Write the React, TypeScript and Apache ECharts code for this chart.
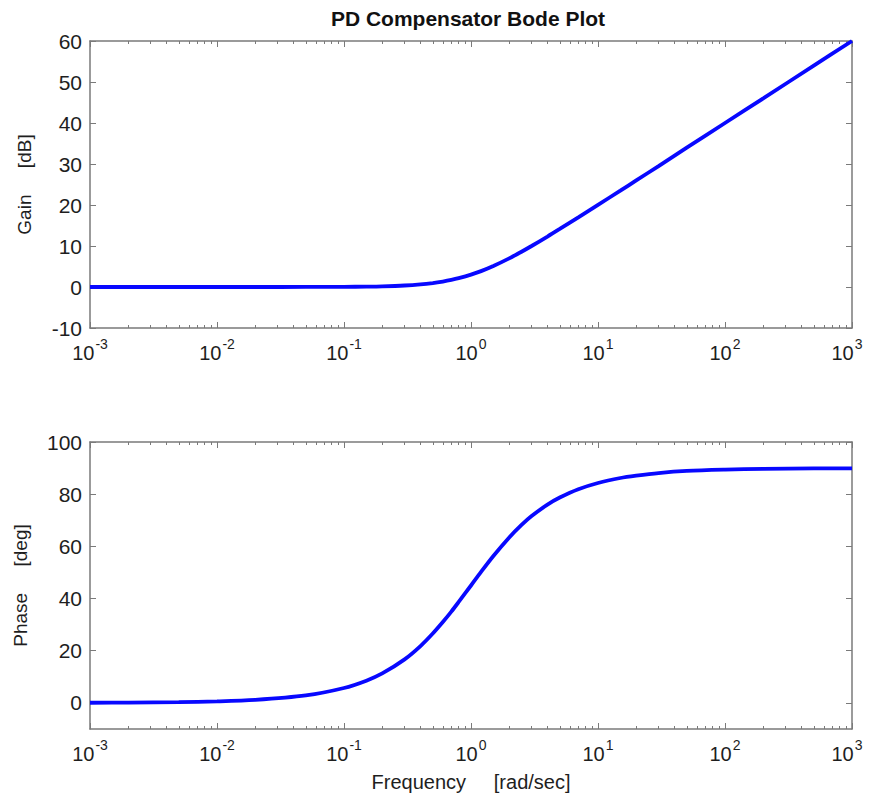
import React, { useEffect, useRef } from "react";
import * as echarts from "echarts";

// Frequencies [rad/sec] at which the curves are read
const freq = [0.001, 0.002, 0.005, 0.01, 0.02, 0.05, 0.1, 0.15, 0.2, 0.3, 0.4, 0.5, 0.6, 0.7, 0.8, 1, 1.2, 1.5, 2, 2.5, 3, 4, 5, 7, 10, 15, 20, 30, 50, 100, 200, 500, 1000];
// Gain [dB]
const gain = [0, 0, 0, 0, 0, 0.01, 0.04, 0.1, 0.17, 0.37, 0.64, 0.97, 1.34, 1.73, 2.15, 3.01, 3.87, 5.12, 6.99, 8.6, 10.0, 12.3, 14.15, 16.99, 20.04, 23.5, 26.0, 29.5, 34.0, 40.0, 46.0, 54.0, 60.0];
// Phase [deg]
const phase = [0.06, 0.11, 0.29, 0.57, 1.15, 2.86, 5.71, 8.53, 11.3, 16.7, 21.8, 26.6, 31.0, 35.0, 38.7, 45.0, 50.2, 56.3, 63.4, 68.2, 71.6, 76.0, 78.7, 81.9, 84.3, 86.2, 87.1, 88.1, 88.9, 89.4, 89.7, 89.9, 89.9];

const majorX = [0.001, 0.01, 0.1, 1, 10, 100, 1000];
const minorX: number[] = [];
for (let e = -3; e < 3; e++) for (let m = 2; m <= 9; m++) minorX.push(+(m * Math.pow(10, e)).toPrecision(3));
const gainTicks = [-10, 0, 10, 20, 30, 40, 50, 60];
const phaseTicks = [0, 20, 40, 60, 80, 100];

const AX = "#7a7a7a";
const FONT = "Liberation Sans, Arial, sans-serif";
const TXT = "#1e1e1e";

function xAxes(grid: number, showName: boolean) {
  const base = { type: "log", logBase: 10, min: 0.001, max: 1000, gridIndex: grid, splitLine: { show: false } };
  return [
    {
      ...base,
      position: "bottom",
      axisLine: { show: true, onZero: false, lineStyle: { color: AX, width: 1.5 } },
      axisTick: { show: true, inside: true, length: 6, lineStyle: { color: AX }, customValues: majorX },
      axisLabel: {
        show: true,
        margin: 9,
        customValues: majorX,
        formatter: (v: number) => {
          const e = Math.round(Math.log10(v));
          return e === 3 ? `{b|10}{t|${e}}` : `{b|10}{s|${e}}`;
        },
        rich: {
          b: { fontSize: 20, fontFamily: FONT, color: TXT, lineHeight: 26, verticalAlign: "bottom" },
          s: { fontSize: 14, fontFamily: FONT, color: TXT, lineHeight: 26, verticalAlign: "top", padding: [0, 0, 0, 1] },
          t: { fontSize: 14, fontFamily: FONT, color: TXT, lineHeight: 26, verticalAlign: "top", padding: [0, 10, 0, 1] },
        },
      },
      name: showName ? "Frequency     [rad/sec]" : "",
      nameLocation: "middle",
      nameGap: 43,
      nameTextStyle: { fontSize: 20, fontFamily: FONT, color: TXT },
    },
    {
      ...base,
      position: "bottom",
      axisLine: { show: false, onZero: false },
      axisTick: { show: true, inside: true, length: 3, lineStyle: { color: AX }, customValues: minorX },
      axisLabel: { show: false },
    },
    {
      ...base,
      position: "top",
      axisLine: { show: true, onZero: false, lineStyle: { color: AX, width: 1.5 } },
      axisTick: { show: true, inside: true, length: 6, lineStyle: { color: AX }, customValues: majorX },
      axisLabel: { show: false },
    },
    {
      ...base,
      position: "top",
      axisLine: { show: false, onZero: false },
      axisTick: { show: true, inside: true, length: 3, lineStyle: { color: AX }, customValues: minorX },
      axisLabel: { show: false },
    },
  ];
}

function yAxes(grid: number, min: number, max: number, ticks: number[], name: string, gap: number) {
  const base = { type: "value", min, max, gridIndex: grid, splitLine: { show: false } };
  return [
    {
      ...base,
      position: "left",
      axisLine: { show: true, onZero: false, lineStyle: { color: AX, width: 1.5 } },
      axisTick: { show: true, inside: true, length: 6, lineStyle: { color: AX }, customValues: ticks },
      axisLabel: { show: true, customValues: ticks, fontSize: 21, fontFamily: FONT, color: TXT, margin: 8 },
      name,
      nameLocation: "middle",
      nameGap: gap,
      nameRotate: 90,
      nameTextStyle: { fontSize: 19, fontFamily: FONT, color: TXT },
    },
    {
      ...base,
      position: "right",
      axisLine: { show: true, onZero: false, lineStyle: { color: AX, width: 1.5 } },
      axisTick: { show: true, inside: true, length: 6, lineStyle: { color: AX }, customValues: ticks },
      axisLabel: { show: false },
    },
  ];
}

export default function App() {
  const ref = useRef<HTMLDivElement>(null);
  useEffect(() => {
    if (!ref.current) return;
    const chart = echarts.init(ref.current, null, { renderer: "svg" });
    const line = { color: "#0808ff", width: 3.8 };
    chart.setOption({
      animation: false,
      backgroundColor: "#fff",
      title: {
        text: "PD Compensator Bode Plot",
        left: 460,
        textAlign: "center",
        top: 0,
        padding: 0,
        textStyle: { fontSize: 21, fontWeight: "bold", fontFamily: FONT, color: "#111", lineHeight: 20 },
      },
      grid: [
        { left: 82, width: 762, top: 33, height: 287, outerBoundsMode: "none", containLabel: false },
        { left: 82, width: 762, top: 434, height: 287, outerBoundsMode: "none", containLabel: false },
      ],
      xAxis: [...xAxes(0, false), ...xAxes(1, true)],
      yAxis: [
        ...yAxes(0, -10, 60, gainTicks, "Gain     [dB]", 56),
        ...yAxes(1, -10, 100, phaseTicks, "Phase     [deg]", 60),
      ],
      series: [
        {
          type: "line",
          xAxisIndex: 0,
          yAxisIndex: 0,
          data: freq.map((f, i) => [f, gain[i]]),
          showSymbol: false,
          smooth: 0.3,
          lineStyle: line,
          clip: true,
        },
        {
          type: "line",
          xAxisIndex: 4,
          yAxisIndex: 2,
          data: freq.map((f, i) => [f, phase[i]]),
          showSymbol: false,
          smooth: 0.3,
          lineStyle: line,
          clip: true,
        },
      ],
    });
    return () => chart.dispose();
  }, []);
  return <div ref={ref} style={{ width: 863, height: 788 }} />;
}
